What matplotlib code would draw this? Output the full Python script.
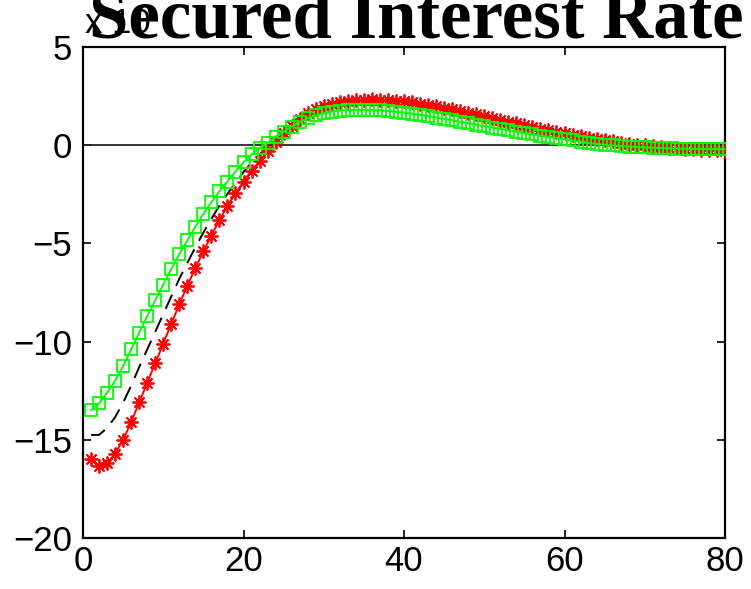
import matplotlib
matplotlib.use("Agg")
import matplotlib.pyplot as plt
import numpy as np

periods = list(range(1, 81))

red_series = [
    -16.0, -16.35, -16.2, -15.7, -15.0, -14.1, -13.1, -12.1, -11.1, -10.1,
    -9.1, -8.1, -7.15, -6.25, -5.4, -4.6, -3.8, -3.1, -2.45, -1.85,
    -1.3, -0.8, -0.32, 0.15, 0.6, 1.0, 1.35, 1.62, 1.85, 2.0,
    2.12, 2.2, 2.26, 2.3, 2.32, 2.33, 2.32, 2.3, 2.27, 2.23,
    2.18, 2.12, 2.06, 1.99, 1.91, 1.83, 1.75, 1.66, 1.57, 1.48,
    1.39, 1.29, 1.2, 1.11, 1.02, 0.93, 0.84, 0.76, 0.68, 0.6,
    0.52, 0.45, 0.38, 0.31, 0.25, 0.19, 0.13, 0.08, 0.03, -0.01,
    -0.05, -0.09, -0.12, -0.15, -0.18, -0.2, -0.22, -0.24, -0.26, -0.28,
]

green_series = [
    -13.5, -13.15, -12.6, -12.0, -11.25, -10.4, -9.55, -8.7, -7.9, -7.1,
    -6.3, -5.55, -4.85, -4.15, -3.5, -2.9, -2.35, -1.85, -1.35, -0.88,
    -0.47, -0.15, 0.12, 0.4, 0.68, 0.95, 1.18, 1.37, 1.52, 1.63,
    1.71, 1.76, 1.79, 1.8, 1.8, 1.79, 1.77, 1.74, 1.7, 1.65,
    1.6, 1.54, 1.48, 1.41, 1.34, 1.27, 1.19, 1.12, 1.04, 0.97,
    0.9, 0.83, 0.76, 0.69, 0.62, 0.55, 0.49, 0.42, 0.36, 0.3,
    0.24, 0.17, 0.11, 0.06, 0.02, -0.01, -0.04, -0.07, -0.09, -0.11,
    -0.13, -0.15, -0.16, -0.17, -0.18, -0.19, -0.19, -0.2, -0.2, -0.2,
]

black_series = [
    -14.75, -14.75, -14.4, -13.85, -13.1, -12.25, -11.3, -10.4, -9.5, -8.6,
    -7.7, -6.8, -6.0, -5.2, -4.45, -3.75, -3.08, -2.48, -1.9, -1.37,
    -0.89, -0.48, -0.1, 0.27, 0.64, 0.97, 1.26, 1.5, 1.68, 1.81,
    1.91, 1.98, 2.02, 2.05, 2.06, 2.06, 2.05, 2.02, 1.98, 1.94,
    1.89, 1.83, 1.77, 1.7, 1.62, 1.55, 1.47, 1.39, 1.3, 1.22,
    1.14, 1.06, 0.98, 0.9, 0.82, 0.74, 0.66, 0.59, 0.52, 0.45,
    0.38, 0.31, 0.25, 0.19, 0.14, 0.09, 0.05, 0.01, -0.03, -0.06,
    -0.09, -0.12, -0.14, -0.16, -0.18, -0.19, -0.2, -0.22, -0.23, -0.24,
]

zero_series = [0.0] * 80

x_ticks = [0, 20, 40, 60, 80]
y_ticks = [-20, -15, -10, -5, 0, 5]
x_ticklabels = ["0", "20", "40", "60", "80"]
y_ticklabels = ["\u221220", "\u221215", "\u221210", "\u22125", "0", "5"]

title_text = "Secured Interest Rate"
exponent_text = "x 10"

W, H = 751, 589
fig = plt.figure(figsize=(W / 100, H / 100), dpi=100)
ax = fig.add_axes([83 / W, 1 - 538 / H, (725 - 83) / W, (538 - 47) / H])

ax.plot(periods, zero_series, color="black", lw=1.1, zorder=1)
ax.plot(periods, black_series, color="black", lw=1.4, dashes=(8, 5), zorder=2)
ax.plot(periods, red_series, color="red", lw=1.4, marker=(8, 2, 0),
        markersize=10, markeredgewidth=1.3, zorder=3)
ax.plot(periods, green_series, color="#00ff00", lw=1.4, marker="s",
        markersize=9, markerfacecolor="none", markeredgewidth=1.3, zorder=4)

ax.set_xlim(0, 80)
ax.set_ylim(-20, 5)
ax.set_xticks(x_ticks)
ax.set_xticklabels(x_ticklabels)
ax.set_yticks(y_ticks)
ax.set_yticklabels(y_ticklabels)

for sp in ax.spines.values():
    sp.set_linewidth(1.6)
ax.tick_params(direction="in", length=6, width=1.2, top=True, right=True,
               labelsize=25, pad=8)
ax.tick_params(axis="x", pad=5)
for lab in ax.get_xticklabels() + ax.get_yticklabels():
    lab.set_fontfamily("Liberation Sans")

fig.text(416 / W, 1 - 38 / H, title_text, fontsize=51, fontweight="bold",
         family="Liberation Serif", ha="center", va="baseline", zorder=1)
fig.text(85 / W, 1 - 33 / H, exponent_text, fontsize=25,
         family="Liberation Sans", ha="left", va="baseline", zorder=2)

fig.savefig("out.png", dpi=100)
